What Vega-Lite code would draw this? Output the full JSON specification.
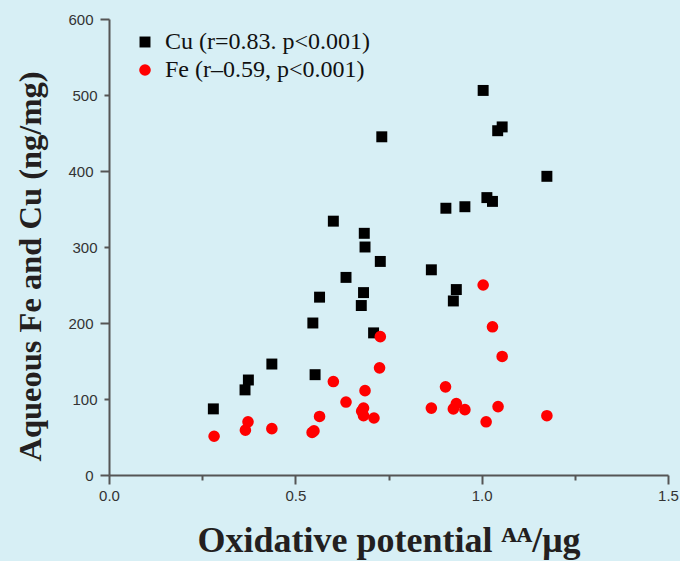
{
  "$schema": "https://vega.github.io/schema/vega-lite/v6.json",
  "width": 559,
  "height": 456,
  "autosize": {"type": "none"},
  "padding": {"left": 109, "top": 19, "right": 12, "bottom": 86},
  "background": "#d7eff5",
  "data": {
    "values": [
      {"x": 0.602, "y": 334, "metal": "Cu (r=0.83. p<0.001)"},
      {"x": 0.685, "y": 318, "metal": "Cu (r=0.83. p<0.001)"},
      {"x": 0.687, "y": 300, "metal": "Cu (r=0.83. p<0.001)"},
      {"x": 0.728, "y": 281, "metal": "Cu (r=0.83. p<0.001)"},
      {"x": 0.636, "y": 260, "metal": "Cu (r=0.83. p<0.001)"},
      {"x": 0.565, "y": 234, "metal": "Cu (r=0.83. p<0.001)"},
      {"x": 0.683, "y": 240, "metal": "Cu (r=0.83. p<0.001)"},
      {"x": 0.677, "y": 223, "metal": "Cu (r=0.83. p<0.001)"},
      {"x": 0.547, "y": 200, "metal": "Cu (r=0.83. p<0.001)"},
      {"x": 0.710, "y": 187, "metal": "Cu (r=0.83. p<0.001)"},
      {"x": 0.437, "y": 146, "metal": "Cu (r=0.83. p<0.001)"},
      {"x": 0.553, "y": 132, "metal": "Cu (r=0.83. p<0.001)"},
      {"x": 0.374, "y": 125, "metal": "Cu (r=0.83. p<0.001)"},
      {"x": 0.365, "y": 112, "metal": "Cu (r=0.83. p<0.001)"},
      {"x": 0.280, "y": 87, "metal": "Cu (r=0.83. p<0.001)"},
      {"x": 1.004, "y": 506, "metal": "Cu (r=0.83. p<0.001)"},
      {"x": 1.055, "y": 458, "metal": "Cu (r=0.83. p<0.001)"},
      {"x": 1.043, "y": 453, "metal": "Cu (r=0.83. p<0.001)"},
      {"x": 0.732, "y": 445, "metal": "Cu (r=0.83. p<0.001)"},
      {"x": 1.175, "y": 393, "metal": "Cu (r=0.83. p<0.001)"},
      {"x": 1.014, "y": 365, "metal": "Cu (r=0.83. p<0.001)"},
      {"x": 1.029, "y": 360, "metal": "Cu (r=0.83. p<0.001)"},
      {"x": 0.904, "y": 351, "metal": "Cu (r=0.83. p<0.001)"},
      {"x": 0.955, "y": 353, "metal": "Cu (r=0.83. p<0.001)"},
      {"x": 0.865, "y": 270, "metal": "Cu (r=0.83. p<0.001)"},
      {"x": 0.932, "y": 244, "metal": "Cu (r=0.83. p<0.001)"},
      {"x": 0.924, "y": 229, "metal": "Cu (r=0.83. p<0.001)"},
      {"x": 0.728, "y": 182, "metal": "Fe (r–0.59, p<0.001)"},
      {"x": 0.726, "y": 141, "metal": "Fe (r–0.59, p<0.001)"},
      {"x": 0.602, "y": 123, "metal": "Fe (r–0.59, p<0.001)"},
      {"x": 0.687, "y": 111, "metal": "Fe (r–0.59, p<0.001)"},
      {"x": 0.636, "y": 96, "metal": "Fe (r–0.59, p<0.001)"},
      {"x": 0.683, "y": 88, "metal": "Fe (r–0.59, p<0.001)"},
      {"x": 0.678, "y": 84, "metal": "Fe (r–0.59, p<0.001)"},
      {"x": 0.683, "y": 78, "metal": "Fe (r–0.59, p<0.001)"},
      {"x": 0.711, "y": 75, "metal": "Fe (r–0.59, p<0.001)"},
      {"x": 0.565, "y": 77, "metal": "Fe (r–0.59, p<0.001)"},
      {"x": 0.550, "y": 58, "metal": "Fe (r–0.59, p<0.001)"},
      {"x": 0.545, "y": 56, "metal": "Fe (r–0.59, p<0.001)"},
      {"x": 0.437, "y": 61, "metal": "Fe (r–0.59, p<0.001)"},
      {"x": 0.373, "y": 70, "metal": "Fe (r–0.59, p<0.001)"},
      {"x": 0.366, "y": 59, "metal": "Fe (r–0.59, p<0.001)"},
      {"x": 0.282, "y": 51, "metal": "Fe (r–0.59, p<0.001)"},
      {"x": 1.004, "y": 250, "metal": "Fe (r–0.59, p<0.001)"},
      {"x": 1.029, "y": 195, "metal": "Fe (r–0.59, p<0.001)"},
      {"x": 1.055, "y": 156, "metal": "Fe (r–0.59, p<0.001)"},
      {"x": 0.903, "y": 116, "metal": "Fe (r–0.59, p<0.001)"},
      {"x": 0.865, "y": 88, "metal": "Fe (r–0.59, p<0.001)"},
      {"x": 0.932, "y": 94, "metal": "Fe (r–0.59, p<0.001)"},
      {"x": 0.924, "y": 87, "metal": "Fe (r–0.59, p<0.001)"},
      {"x": 0.955, "y": 86, "metal": "Fe (r–0.59, p<0.001)"},
      {"x": 1.044, "y": 90, "metal": "Fe (r–0.59, p<0.001)"},
      {"x": 1.012, "y": 70, "metal": "Fe (r–0.59, p<0.001)"},
      {"x": 1.175, "y": 78, "metal": "Fe (r–0.59, p<0.001)"}
    ]
  },
  "mark": {"type": "point", "filled": true, "opacity": 1},
  "encoding": {
    "x": {
      "field": "x",
      "type": "quantitative",
      "scale": {"domain": [0, 1.5], "nice": false, "zero": false},
      "axis": {
        "title": "Oxidative potential ᴬᴬ/μg",
        "values": [0, 0.25, 0.5, 0.75, 1, 1.25, 1.5],
        "labelExpr": "datum.value % 0.5 === 0 ? format(datum.value, '.1f') : ''",
        "labelFlush": false,
        "tickSize": {"condition": {"test": "datum.value % 0.5 === 0", "value": 9}, "value": 5},
        "labelPadding": 4,
        "titlePadding": 20,
        "titleFontSize": 36
      }
    },
    "y": {
      "field": "y",
      "type": "quantitative",
      "scale": {"domain": [0, 600], "nice": false},
      "axis": {
        "title": "Aqueous Fe and Cu (ng/mg)",
        "values": [0, 100, 200, 300, 400, 500, 600],
        "labelFlush": false,
        "tickSize": {"condition": {"test": "datum.value % 200 === 0", "value": 9}, "value": 5},
        "labelPadding": 7,
        "titlePadding": 20,
        "titleY": 247,
        "titleFontSize": 32.5
      }
    },
    "color": {
      "field": "metal",
      "type": "nominal",
      "scale": {"domain": ["Cu (r=0.83. p<0.001)", "Fe (r–0.59, p<0.001)"], "range": ["#000000", "#ff0000"]},
      "legend": {
        "title": null,
        "orient": "none",
        "legendX": 24,
        "legendY": 11,
        "labelFont": "Liberation Serif",
        "labelFontSize": 24,
        "labelColor": "#111111",
        "labelLimit": 0,
        "labelOffset": 8,
        "rowPadding": 4,
        "symbolSize": 130,
        "padding": 0
      }
    },
    "shape": {
      "field": "metal",
      "type": "nominal",
      "scale": {"domain": ["Cu (r=0.83. p<0.001)", "Fe (r–0.59, p<0.001)"], "range": ["square", "circle"]}
    },
    "size": {
      "field": "metal",
      "type": "nominal",
      "scale": {"domain": ["Cu (r=0.83. p<0.001)", "Fe (r–0.59, p<0.001)"], "range": [120, 135]},
      "legend": null
    }
  },
  "config": {
    "view": {"stroke": null},
    "axis": {
      "grid": false,
      "domainColor": "#555555",
      "domainWidth": 2,
      "tickColor": "#555555",
      "tickWidth": 2,
      "labelFont": "Liberation Sans",
      "labelFontSize": 15,
      "labelColor": "#333333",
      "titleFont": "Liberation Serif",
      "titleFontWeight": "bold",
      "titleColor": "#231f20"
    }
  }
}
